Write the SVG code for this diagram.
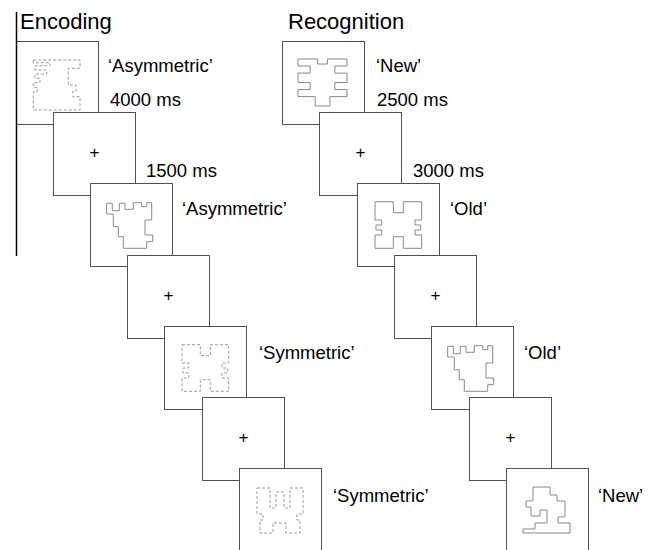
<svg xmlns="http://www.w3.org/2000/svg" xmlns:xlink="http://www.w3.org/1999/xlink" width="655" height="550" viewBox="0 0 655 550">
<style>
  .frame { fill: #ffffff; stroke: #505050; stroke-width: 1; }
  .title { font-family: "Liberation Sans", Arial, sans-serif; font-size: 22px; fill: #000; }
  .lbl { font-family: "Liberation Sans", Arial, sans-serif; font-size: 18.5px; fill: #000; }
  .plus { font-family: "Liberation Sans", Arial, sans-serif; font-size: 17px; fill: #000; text-anchor: middle; }
  .solid { fill: none; stroke: #8a8a8a; stroke-width: 1; }
  .dash { fill: none; stroke: #9a9a9a; stroke-width: 1; stroke-dasharray: 3 2; }
</style>
<defs>
  <path id="castle" d="M106.7,203.3 H112.3 V210.7 H119.3 V203.3 H125 V209.3 H133.3 V202.7 H141.7 V206.7 H146.7 V202.7 H151.7 V220 H145 V235 H152.7 V241.7 H146.7 V248.3 H123.3 V236.7 H118.3 V226.7 H113.3 V214 H106.7 Z"/>
  <path id="hshape" d="M375,201.7 H393.3 V212.7 H403.3 V201.7 H421.7 V220 H415 V225 H420.7 V230 H415 V235 H421.7 V248.3 H403.3 V236.7 H393.3 V248.3 H375 V235 H381.7 V230 H376 V225 H381.7 V220 H375 Z"/>
</defs>

<text class="title" x="20" y="29">Encoding</text>
<text class="title" x="288" y="29">Recognition</text>

<!-- Encoding column -->
<g id="enc1">
  <rect class="frame" x="16.5" y="41.5" width="82" height="83"/>
  <path class="dash" d="M33.3,60 H80 V68.3 H68.3 V85 H76 V91.7 H72.7 V96.7 H80 V110 H33.3 V91.7 H37.3 V87.3 H33.3 V82.7 H40 V78.3 H35 V74 H46.7 V70 H35 V65.7 H50 V62.7 H33.3 Z"/>
  <text class="lbl" x="108" y="72">‘Asymmetric’</text>
  <text class="lbl" x="110" y="106">4000 ms</text>
</g>
<g id="enc2">
  <rect class="frame" x="53.5" y="112.5" width="82" height="83"/>
  <text class="plus" x="94.5" y="158">+</text>
  <text class="lbl" x="146" y="177">1500 ms</text>
</g>
<g id="enc3">
  <rect class="frame" x="90.5" y="183.5" width="82" height="83"/>
  <use xlink:href="#castle" class="solid"/>
  <text class="lbl" x="182" y="215">‘Asymmetric’</text>
</g>
<g id="enc4">
  <rect class="frame" x="127.5" y="255.5" width="82" height="83"/>
  <text class="plus" x="168.5" y="301">+</text>
</g>
<g id="enc5">
  <rect class="frame" x="164.5" y="326.5" width="82" height="83"/>
  <use xlink:href="#hshape" class="dash" transform="translate(-193,143)"/>
  <text class="lbl" x="259" y="359">‘Symmetric’</text>
</g>
<g id="enc6">
  <rect class="frame" x="202.5" y="397.5" width="82" height="83"/>
  <text class="plus" x="243.5" y="443">+</text>
</g>
<g id="enc7">
  <rect class="frame" x="239.5" y="468.5" width="82" height="83"/>
  <path class="dash" d="M257,488 H270 V508 H276 V492 H284 V508 H290 V488 H303 V514 H297 V520 H300 V533 H286 V523 H273 V533 H260 V520 H263 V514 H257 Z"/>
  <text class="lbl" x="333" y="502">‘Symmetric’</text>
</g>

<!-- Recognition column -->
<g id="rec1">
  <rect class="frame" x="282.5" y="41.5" width="82" height="83"/>
  <path class="solid" d="M298,59 H317.6 V64 H327.4 V59 H347 V66 H334.8 V73.1 H347 V82.5 H334.8 V89.6 H347 V96.6 H329.9 V106 H315.2 V96.6 H298 V89.6 H310.2 V82.5 H298 V73.1 H310.2 V66 H298 Z"/>
  <text class="lbl" x="376" y="72">‘New’</text>
  <text class="lbl" x="377" y="106">2500 ms</text>
</g>
<g id="rec2">
  <rect class="frame" x="319.5" y="112.5" width="82" height="83"/>
  <text class="plus" x="360.5" y="158">+</text>
  <text class="lbl" x="413" y="177">3000 ms</text>
</g>
<g id="rec3">
  <rect class="frame" x="357.5" y="183.5" width="82" height="83"/>
  <use xlink:href="#hshape" class="solid"/>
  <text class="lbl" x="450" y="215">‘Old’</text>
</g>
<g id="rec4">
  <rect class="frame" x="394.5" y="255.5" width="82" height="83"/>
  <text class="plus" x="435.5" y="301">+</text>
</g>
<g id="rec5">
  <rect class="frame" x="431.5" y="326.5" width="82" height="83"/>
  <use xlink:href="#castle" class="solid" transform="translate(341,143)"/>
  <text class="lbl" x="524" y="359">‘Old’</text>
</g>
<g id="rec6">
  <rect class="frame" x="469.5" y="397.5" width="82" height="83"/>
  <text class="plus" x="510.5" y="443">+</text>
</g>
<g id="rec7">
  <rect class="frame" x="506.5" y="468.5" width="82" height="83"/>
  <path class="solid" d="M533,487 H550 V495 H557 V501 H565 V517 H558 V523 H570 V533 H523 V529 H535 V523 H547 V510 H540 V516 H531 V507 H526 V501 H533 Z"/>
  <text class="lbl" x="598" y="502">‘New’</text>
</g>

<g id="axis">
  <line x1="16.5" y1="12" x2="16.5" y2="256" stroke="#000" stroke-width="1.5"/>
</g>
</svg>
